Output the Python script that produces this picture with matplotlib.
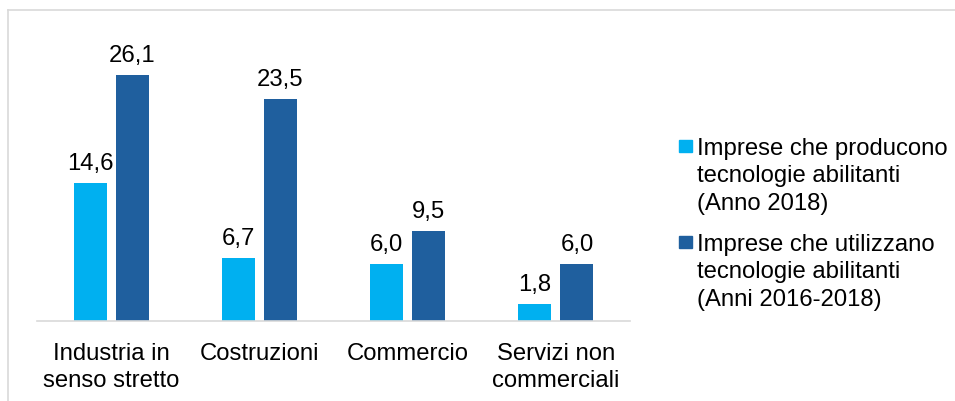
import matplotlib
matplotlib.use("Agg")
import matplotlib.pyplot as plt
from matplotlib.patches import Rectangle
from matplotlib.lines import Line2D
import numpy as np

categories = ["Industria in\nsenso stretto", "Costruzioni", "Commercio", "Servizi non\ncommerciali"]
producono = [14.6, 6.7, 6.0, 1.8]
utilizzano = [26.1, 23.5, 9.5, 6.0]
series_labels = [
    "Imprese che producono\ntecnologie abilitanti\n(Anno 2018)",
    "Imprese che utilizzano\ntecnologie abilitanti\n(Anni 2016-2018)",
]
colors = ["#00B0F0", "#1F5F9E"]

W, H = 955, 401
plt.rcParams["font.family"] = ["Liberation Sans", "DejaVu Sans"]
fs = 17.2

fig = plt.figure(figsize=(W / 100, H / 100), dpi=100)

# plot area in pixel coordinates
left, right, bottom, top = 37, 630, 321, 38
ax = fig.add_axes([left / W, 1 - bottom / H, (right - left) / W, (bottom - top) / H])

x = np.arange(len(categories))
bw = 0.223
off = 0.142
ax.bar(x - off, producono, width=bw, color=colors[0])
ax.bar(x + off, utilizzano, width=bw, color=colors[1])

for xi, v in zip(x - off, producono):
    ax.text(xi, v + 0.85, f"{v:.1f}".replace(".", ","), ha="center", va="bottom", fontsize=fs)
for xi, v in zip(x + off, utilizzano):
    ax.text(xi, v + 0.85, f"{v:.1f}".replace(".", ","), ha="center", va="bottom", fontsize=fs)

ax.set_xlim(-0.5, len(categories) - 0.5)
ax.set_ylim(0, 30)
ax.set_xticks(x)
ax.set_xticklabels(categories, fontsize=fs, linespacing=1.32)
ax.tick_params(axis="x", length=0, pad=15.5)
ax.set_yticks([])
for s in ["left", "right", "top"]:
    ax.spines[s].set_visible(False)
ax.spines["bottom"].set_color("#D9D9D9")
ax.spines["bottom"].set_linewidth(1.2)

# outer frame (top and left edges)
fx0, fy0 = 8 / W, 1 - 10 / H
fig.add_artist(Line2D([fx0, 1], [fy0, fy0], transform=fig.transFigure, color="#D9D9D9", lw=1.2))
fig.add_artist(Line2D([fx0, fx0], [0, fy0], transform=fig.transFigure, color="#D9D9D9", lw=1.2))

# legend
leg_items = [(140, series_labels[0], colors[0]), (236, series_labels[1], colors[1])]
for ytop, lab, c in leg_items:
    fig.add_artist(Rectangle((679 / W, 1 - (ytop + 12) / H), 13 / W, 12 / H,
                             transform=fig.transFigure, color=c))
    fig.text(697 / W, 1 - (ytop - 2) / H, lab, ha="left", va="top", fontsize=fs, linespacing=1.32)

fig.savefig("out.png", dpi=100, facecolor="white")
